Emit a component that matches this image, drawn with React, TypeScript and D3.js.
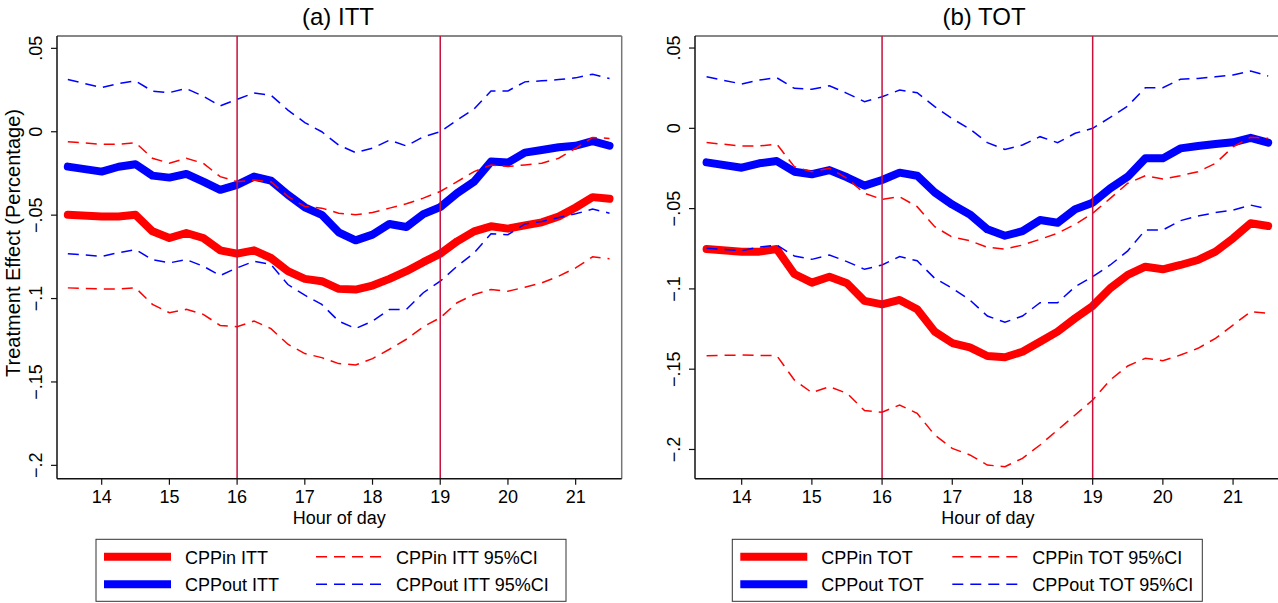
import React from "react";
import * as d3 from "d3";

// hours of day (quarter-hour grid)
const hours = [13.5, 14, 14.25, 14.5, 14.75, 15, 15.25, 15.5, 15.75, 16, 16.25, 16.5, 16.75, 17, 17.25, 17.5, 17.75, 18, 18.25, 18.5, 18.75, 19, 19.25, 19.5, 19.75, 20, 20.25, 20.5, 20.75, 21, 21.25, 21.5];

// (a) ITT
const ittIn = [-0.0498, -0.0508, -0.0508, -0.0498, -0.0597, -0.0637, -0.0607, -0.0637, -0.0711, -0.0731, -0.0711, -0.0757, -0.0836, -0.0882, -0.0896, -0.0942, -0.0946, -0.0922, -0.0882, -0.0836, -0.0782, -0.0731, -0.0657, -0.0597, -0.0567, -0.0581, -0.0561, -0.0543, -0.0508, -0.0454, -0.0392, -0.0402];
const ittInLo = [-0.0936, -0.0942, -0.0942, -0.0936, -0.1035, -0.1085, -0.1065, -0.1095, -0.1161, -0.1169, -0.1135, -0.118, -0.1274, -0.133, -0.1354, -0.139, -0.1398, -0.136, -0.1304, -0.1244, -0.1169, -0.1115, -0.1025, -0.0976, -0.0946, -0.0956, -0.0932, -0.0906, -0.0866, -0.0816, -0.075, -0.0762];
const ittInHi = [-0.006, -0.0075, -0.0075, -0.0066, -0.0159, -0.0189, -0.0159, -0.0189, -0.0269, -0.0299, -0.029, -0.03, -0.0388, -0.0448, -0.0458, -0.0488, -0.0498, -0.0484, -0.0458, -0.0432, -0.0398, -0.0358, -0.0299, -0.0239, -0.0199, -0.0209, -0.0199, -0.0189, -0.0159, -0.0099, -0.0034, -0.004];
const ittOut = [-0.0209, -0.0239, -0.021, -0.0195, -0.0263, -0.0275, -0.0253, -0.0299, -0.0348, -0.0318, -0.0269, -0.0293, -0.0378, -0.0453, -0.0498, -0.0603, -0.0651, -0.0617, -0.0553, -0.0571, -0.0494, -0.0452, -0.0368, -0.0299, -0.0179, -0.0185, -0.0125, -0.0109, -0.0093, -0.0084, -0.0056, -0.0084];
const ittOutLo = [-0.0731, -0.0747, -0.0725, -0.0707, -0.0767, -0.0786, -0.0767, -0.0806, -0.0862, -0.0816, -0.0777, -0.0796, -0.0916, -0.098, -0.1035, -0.1135, -0.118, -0.1135, -0.1065, -0.1065, -0.0965, -0.0896, -0.0806, -0.0727, -0.0611, -0.0617, -0.0553, -0.0538, -0.0514, -0.0492, -0.0464, -0.0488];
const ittOutHi = [0.0313, 0.0265, 0.0289, 0.0305, 0.0243, 0.0235, 0.0259, 0.0213, 0.0155, 0.0194, 0.0233, 0.0219, 0.013, 0.0055, 0.0, -0.008, -0.0125, -0.0099, -0.005, -0.0085, -0.003, 0.0, 0.007, 0.0136, 0.0245, 0.0245, 0.0299, 0.0305, 0.0313, 0.0323, 0.0345, 0.0319];

// (b) TOT
const totIn = [-0.0752, -0.0768, -0.0768, -0.0752, -0.0907, -0.0961, -0.0924, -0.0965, -0.1075, -0.1096, -0.1069, -0.1127, -0.1266, -0.1337, -0.1364, -0.1418, -0.1426, -0.1391, -0.1329, -0.1266, -0.1183, -0.1106, -0.0996, -0.0913, -0.0862, -0.0878, -0.0851, -0.082, -0.0768, -0.0685, -0.0591, -0.0608];
const totInLo = [-0.1416, -0.1412, -0.1414, -0.1416, -0.1567, -0.1646, -0.1609, -0.165, -0.1758, -0.1768, -0.1723, -0.1775, -0.191, -0.1993, -0.2034, -0.2097, -0.2107, -0.2055, -0.1972, -0.1879, -0.1785, -0.1692, -0.1567, -0.148, -0.1432, -0.1447, -0.1412, -0.137, -0.1308, -0.1225, -0.1142, -0.1152];
const totInHi = [-0.0089, -0.011, -0.011, -0.0098, -0.0239, -0.027, -0.0249, -0.0311, -0.0405, -0.0442, -0.0426, -0.0488, -0.0613, -0.0677, -0.07, -0.0741, -0.0752, -0.0727, -0.0691, -0.0654, -0.0598, -0.0529, -0.0436, -0.0342, -0.0295, -0.0316, -0.0295, -0.027, -0.0218, -0.0115, -0.0056, -0.0062];
const totOut = [-0.0212, -0.0245, -0.0218, -0.0204, -0.027, -0.0286, -0.026, -0.0305, -0.0357, -0.0322, -0.0276, -0.0295, -0.0399, -0.0475, -0.0536, -0.0629, -0.0669, -0.064, -0.0571, -0.0588, -0.0504, -0.0463, -0.0374, -0.0301, -0.0187, -0.0187, -0.0125, -0.011, -0.0098, -0.0087, -0.0059, -0.0089];
const totOutLo = [-0.0747, -0.0762, -0.074, -0.0727, -0.0795, -0.0816, -0.0789, -0.083, -0.0878, -0.0851, -0.0799, -0.0825, -0.0934, -0.0996, -0.1069, -0.1169, -0.1208, -0.1169, -0.1086, -0.1086, -0.0986, -0.0924, -0.0851, -0.0763, -0.0633, -0.0633, -0.0575, -0.0546, -0.0525, -0.0509, -0.0478, -0.0502];
const totOutHi = [0.0321, 0.0276, 0.0301, 0.0315, 0.0249, 0.0243, 0.0265, 0.0218, 0.0166, 0.0197, 0.0238, 0.0222, 0.0135, 0.006, -0.0004, -0.0089, -0.0131, -0.0104, -0.0052, -0.0089, -0.0031, 0.0, 0.0068, 0.0139, 0.0253, 0.0253, 0.0305, 0.0311, 0.0321, 0.0332, 0.0357, 0.0326];

const xTicks = [14, 15, 16, 17, 18, 19, 20, 21];
const yTicks = [0.05, 0, -0.05, -0.1, -0.15, -0.2];
const yTickLabels = [".05", "0", "\u2212.05", "\u2212.1", "\u2212.15", "\u2212.2"];
const cutoffs = [16, 19];

const RED = "#ff0000";
const BLUE = "#0000ff";
const VLINE = "#c8103c";
const FONT = "'Liberation Sans', Arial, Helvetica, sans-serif";
const DASH = "11,7";

type PanelProps = {
  title: string;
  titleX: number;
  left: number;
  right: number;
  xDomain: [number, number];
  yDomain: [number, number];
  est: number[][];
  ci: number[][][];
  names: string[];
  legendX: number;
  yTitle?: string;
};

const TOP = 36;
const BOTTOM = 478.7;

function Panel(p: PanelProps) {
  const x = d3.scaleLinear().domain(p.xDomain).range([p.left, p.right]);
  const y = d3.scaleLinear().domain(p.yDomain).range([BOTTOM, TOP]);
  const line = d3
    .line<number>()
    .x((_, i) => x(hours[i]))
    .y((d) => y(d));
  const colors = [RED, BLUE];
  const lx = p.legendX;
  const ly = 539.3;

  return (
    <g>
      <text x={p.titleX} y={25} textAnchor="middle" fontSize={24} fontFamily={FONT} fill="#000">
        {p.title}
      </text>

      {/* plot frame */}
      <line x1={p.left} x2={p.right} y1={TOP} y2={TOP} stroke="#111" strokeWidth={1.2} />
      <line x1={p.right} x2={p.right} y1={TOP} y2={BOTTOM} stroke="#777" strokeWidth={1.5} />

      {/* thick estimates */}
      {p.est.map((s, i) => (
        <path key={"e" + i} d={line(s) || ""} fill="none" stroke={colors[i]} strokeWidth={8} strokeLinejoin="round" strokeLinecap="round" />
      ))}
      {/* dashed confidence bands */}
      {p.ci.map((pair, i) =>
        pair.map((s, j) => (
          <path key={"c" + i + j} d={line(s) || ""} fill="none" stroke={colors[i]} strokeWidth={1.5} strokeDasharray={DASH} />
        ))
      )}

      {cutoffs.map((c) => (
        <line key={c} x1={x(c)} x2={x(c)} y1={TOP} y2={BOTTOM} stroke={VLINE} strokeWidth={1.5} />
      ))}

      {/* axes */}
      <line x1={p.left} x2={p.left} y1={TOP} y2={BOTTOM} stroke="#111" strokeWidth={1.5} />
      <line x1={p.left} x2={p.right} y1={BOTTOM} y2={BOTTOM} stroke="#111" strokeWidth={1.5} />
      {xTicks.map((t) => (
        <g key={t}>
          <line x1={x(t)} x2={x(t)} y1={BOTTOM} y2={BOTTOM + 6} stroke="#111" strokeWidth={1.2} />
          <text x={x(t)} y={503} textAnchor="middle" fontSize={18} fontFamily={FONT}>
            {t}
          </text>
        </g>
      ))}
      {yTicks.map((t, i) => (
        <g key={t}>
          <line x1={p.left - 6} x2={p.left} y1={y(t)} y2={y(t)} stroke="#111" strokeWidth={1.2} />
          <text
            transform={`translate(${p.left - 15},${y(t)}) rotate(-90)`}
            textAnchor="middle"
            fontSize={18}
            fontFamily={FONT}
          >
            {yTickLabels[i]}
          </text>
        </g>
      ))}
      <text x={(p.left + p.right) / 2} y={524} textAnchor="middle" fontSize={18} fontFamily={FONT}>
        Hour of day
      </text>
      {p.yTitle && (
        <text transform={`translate(20,243) rotate(-90)`} textAnchor="middle" fontSize={20} fontFamily={FONT}>
          {p.yTitle}
        </text>
      )}

      {/* legend */}
      <rect x={lx} y={ly} width={470} height={62} fill="#fff" stroke="#333" strokeWidth={1} />
      {[0, 1].map((i) => {
        const cy = ly + 17.4 + i * 27.6;
        return (
          <g key={i}>
            <line x1={lx + 8} x2={lx + 75} y1={cy} y2={cy} stroke={colors[i]} strokeWidth={8} />
            <text x={lx + 89} y={cy + 7} fontSize={18} fontFamily={FONT}>
              {p.names[i]}
            </text>
            <line x1={lx + 220} x2={lx + 287} y1={cy} y2={cy} stroke={colors[i]} strokeWidth={1.5} strokeDasharray={DASH} />
            <text x={lx + 300} y={cy + 7} fontSize={18} fontFamily={FONT}>
              {p.names[i] + " 95%CI"}
            </text>
          </g>
        );
      })}
    </g>
  );
}

export default function App() {
  return (
    <div>
      <style>{`body{margin:0;background:#fff}`}</style>
      <svg width={1278} height={603} style={{ display: "block", background: "#fff" }}>
        <Panel
          title="(a) ITT"
          titleX={338}
          left={57}
          right={621.7}
          xDomain={[13.34, 21.68]}
          yDomain={[-0.208, 0.0574]}
          est={[ittIn, ittOut]}
          ci={[
            [ittInLo, ittInHi],
            [ittOutLo, ittOutHi],
          ]}
          names={["CPPin ITT", "CPPout ITT"]}
          legendX={96}
          yTitle="Treatment Effect (Percentage)"
        />
        <Panel
          title="(b) TOT"
          titleX={984}
          left={695}
          right={1280.8}
          xDomain={[13.335, 21.68]}
          yDomain={[-0.2182, 0.0575]}
          est={[totIn, totOut]}
          ci={[
            [totInLo, totInHi],
            [totOutLo, totOutHi],
          ]}
          names={["CPPin TOT", "CPPout TOT"]}
          legendX={732.3}
        />
      </svg>
    </div>
  );
}
